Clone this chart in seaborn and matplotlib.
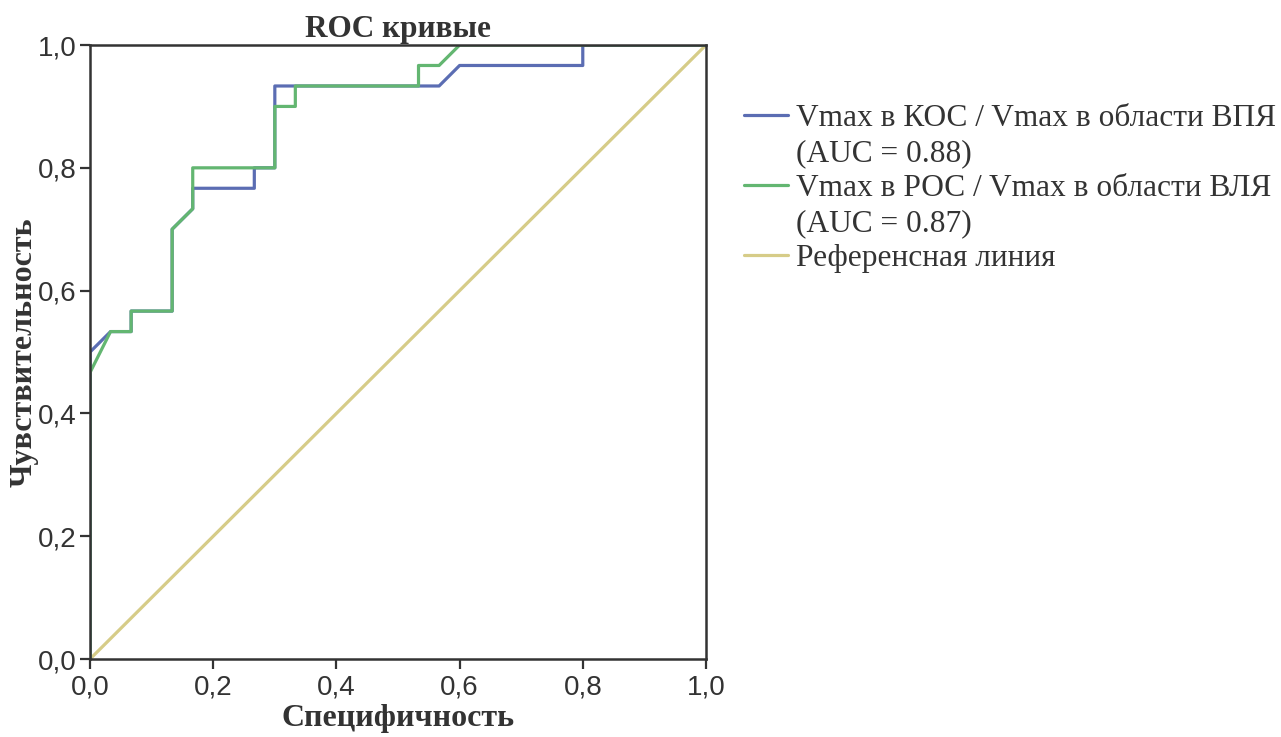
import matplotlib
matplotlib.use('Agg')
import matplotlib.pyplot as plt
from matplotlib.lines import Line2D
from matplotlib.ticker import FuncFormatter, MultipleLocator
import numpy as np
import pandas as pd
import seaborn as sns

# ROC points (steps of 1/30)
fpr_kos = [0, 0, 0.0333, 0.0667, 0.0667, 0.1333, 0.1333, 0.1667, 0.1667, 0.2667, 0.2667,
           0.3, 0.3, 0.5667, 0.6, 0.8, 0.8, 1.0]
tpr_kos = [0, 0.5, 0.5333, 0.5333, 0.5667, 0.5667, 0.7, 0.7333, 0.7667, 0.7667, 0.8,
           0.8, 0.9333, 0.9333, 0.9667, 0.9667, 1.0, 1.0]
fpr_pos = [0, 0, 0.0333, 0.0667, 0.0667, 0.1333, 0.1333, 0.1667, 0.1667, 0.3, 0.3,
           0.3333, 0.3333, 0.5333, 0.5333, 0.5667, 0.6, 1.0]
tpr_pos = [0, 0.4667, 0.5333, 0.5333, 0.5667, 0.5667, 0.7, 0.7333, 0.8, 0.8, 0.9,
           0.9, 0.9333, 0.9333, 0.9667, 0.9667, 1.0, 1.0]
ref_x = [0, 1]
ref_y = [0, 1]

series_names = ['kos', 'pos', 'ref']
label_lines = [
    ['Vmax в КОС / Vmax в области ВПЯ', '(AUC = 0.88)'],
    ['Vmax в РОС / Vmax в области ВЛЯ', '(AUC = 0.87)'],
    ['Референсная линия'],
]
colors = ['#5b6db3', '#63b671', '#d6cc88']
draw_order = ['ref', 'kos', 'pos']  # green sits on top of blue in the reference

df = pd.concat([
    pd.DataFrame({'x': fpr_kos, 'y': tpr_kos, 'series': 'kos'}),
    pd.DataFrame({'x': fpr_pos, 'y': tpr_pos, 'series': 'pos'}),
    pd.DataFrame({'x': ref_x, 'y': ref_y, 'series': 'ref'}),
], ignore_index=True)
col_of = dict(zip(series_names, colors))

sns.set_style('white')
plt.rcParams['font.family'] = ['Liberation Sans', 'DejaVu Sans']

fig = plt.figure(figsize=(12.81, 7.37), dpi=100)
ax = fig.add_axes([0.0703, 0.1058, 0.4808, 0.8331])

for name in draw_order:
    sns.lineplot(data=df[df['series'] == name], x='x', y='y', ax=ax, color=col_of[name],
                 linewidth=2.3, sort=False, estimator=None, legend=False)

ax.set_xlim(0, 1)
ax.set_ylim(0, 1)
ax.xaxis.set_major_locator(MultipleLocator(0.2))
ax.yaxis.set_major_locator(MultipleLocator(0.2))
fmt = FuncFormatter(lambda v, p: f'{v:.1f}'.replace('.', ','))
ax.xaxis.set_major_formatter(fmt)
ax.yaxis.set_major_formatter(fmt)
ax.tick_params(axis='both', which='major', direction='out', length=7, width=1.6,
               color='#333333', labelsize=20, labelcolor='#333333')
ax.tick_params(axis='x', pad=4)
ax.tick_params(axis='y', pad=3)
ax.tick_params(bottom=True, left=True)
for sp in ax.spines.values():
    sp.set_color('#333333')
    sp.set_linewidth(1.8)

serif = ['Liberation Serif', 'DejaVu Serif']
ax.set_title('ROC кривые', family=serif, fontweight='bold', fontsize=22.5,
             color='#333333', pad=6)
ax.set_xlabel('Специфичность', family=serif, fontweight='bold', fontsize=23,
              color='#333333', labelpad=3)
ax.set_ylabel('Чувствительность', family=serif, fontweight='bold', fontsize=23,
              color='#333333', labelpad=-1)

# legend: one row per text line, handle only on the first line of each entry
handles, texts = [], []
for lines, col in zip(label_lines, colors):
    for i, t in enumerate(lines):
        handles.append(Line2D([], [], color=col if i == 0 else 'none', linewidth=2.3))
        texts.append(t)
leg = fig.legend(handles, texts, loc='upper left', bbox_to_anchor=(0.581, 0.859),
                 frameon=False, prop={'family': serif, 'size': 22.6},
                 handlelength=1.4, handletextpad=0.25, labelspacing=0.19,
                 borderpad=0, borderaxespad=0)
for t in leg.get_texts():
    t.set_color('#333333')

fig.savefig('out.png', dpi=100, facecolor='white')
